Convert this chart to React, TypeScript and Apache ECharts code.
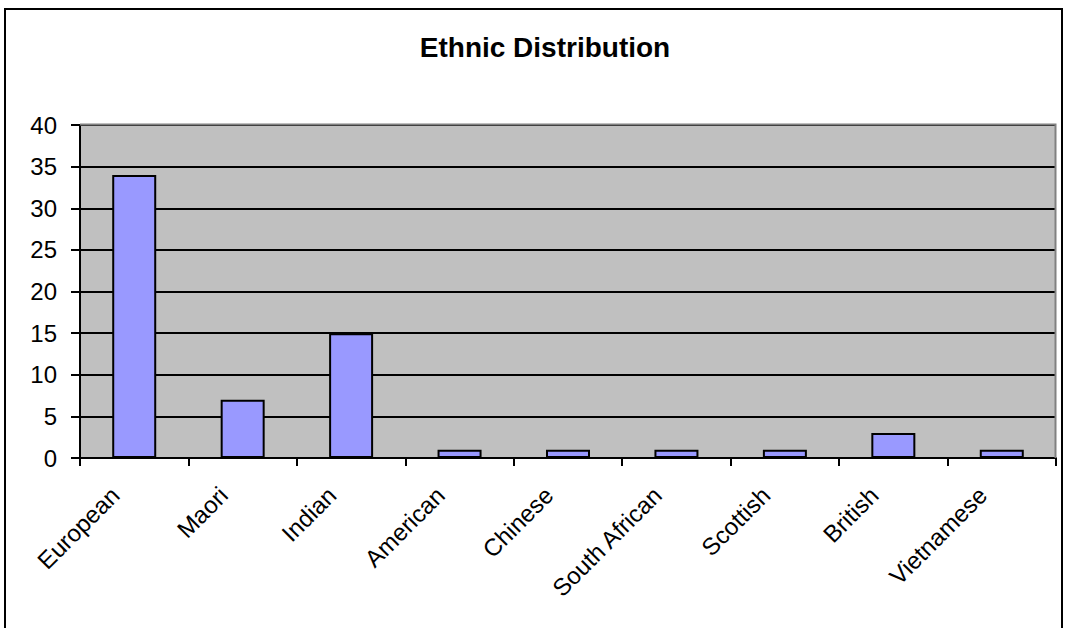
import React, { useEffect, useRef } from "react";
import * as echarts from "echarts";

const categories = ["European", "Maori", "Indian", "American", "Chinese", "South African", "Scottish", "British", "Vietnamese"];
const values = [34, 7, 15, 1, 1, 1, 1, 3, 1];
const titleText = "Ethnic Distribution";

export default function App() {
  const ref = useRef<HTMLDivElement>(null);
  useEffect(() => {
    const chart = echarts.init(ref.current!, null, { renderer: "svg" });
    const font = "Arial, 'Liberation Sans', sans-serif";
    chart.setOption({
      animation: false,
      title: {
        text: titleText,
        left: 540,
        top: 28,
        textAlign: "center",
        textStyle: { fontFamily: font, fontSize: 28, fontWeight: "bold", color: "#000" },
      },
      graphic: [
        {
          type: "rect",
          shape: { x: 5, y: 9, width: 1057, height: 640 },
          style: { fill: "none", stroke: "#000", lineWidth: 2 },
          silent: true,
          z: 100,
        },
        {
          type: "polyline",
          shape: { points: [[80, 124.5], [1055.5, 124.5], [1055.5, 458]] },
          style: { fill: "none", stroke: "#808080", lineWidth: 2 },
          silent: true,
          z: 1,
        },
      ],
      grid: {
        left: 80,
        top: 125,
        width: 976,
        height: 333,
        show: true,
        backgroundColor: "#C0C0C0",
        borderWidth: 0,
      },
      xAxis: {
        type: "category",
        data: categories,
        axisLine: { lineStyle: { color: "#000", width: 2 } },
        axisTick: { show: true, length: 8, lineStyle: { color: "#000", width: 2 } },
        axisLabel: {
          rotate: 45,
          margin: 14,
          padding: [0, 27, 0, 0],
          fontFamily: font,
          fontSize: 24,
          color: "#000",
          interval: 0,
        },
        splitLine: { show: false },
      },
      yAxis: {
        type: "value",
        min: 0,
        max: 40,
        interval: 5,
        axisLine: { show: true, lineStyle: { color: "#000", width: 2 } },
        axisTick: { show: true, length: 9, lineStyle: { color: "#000", width: 2 } },
        axisLabel: { margin: 23, fontFamily: font, fontSize: 24, color: "#000" },
        splitLine: { show: true, lineStyle: { color: "#000", width: 2 } },
      },
      series: [
        {
          type: "bar",
          data: values,
          barWidth: 44,
          itemStyle: { color: "#9999FF", borderColor: "#000", borderWidth: 2 },
        },
      ],
    });
    return () => chart.dispose();
  }, []);
  return <div ref={ref} style={{ position: "fixed", left: 0, top: 0, width: 1065, height: 628, background: "#fff" }} />;
}
